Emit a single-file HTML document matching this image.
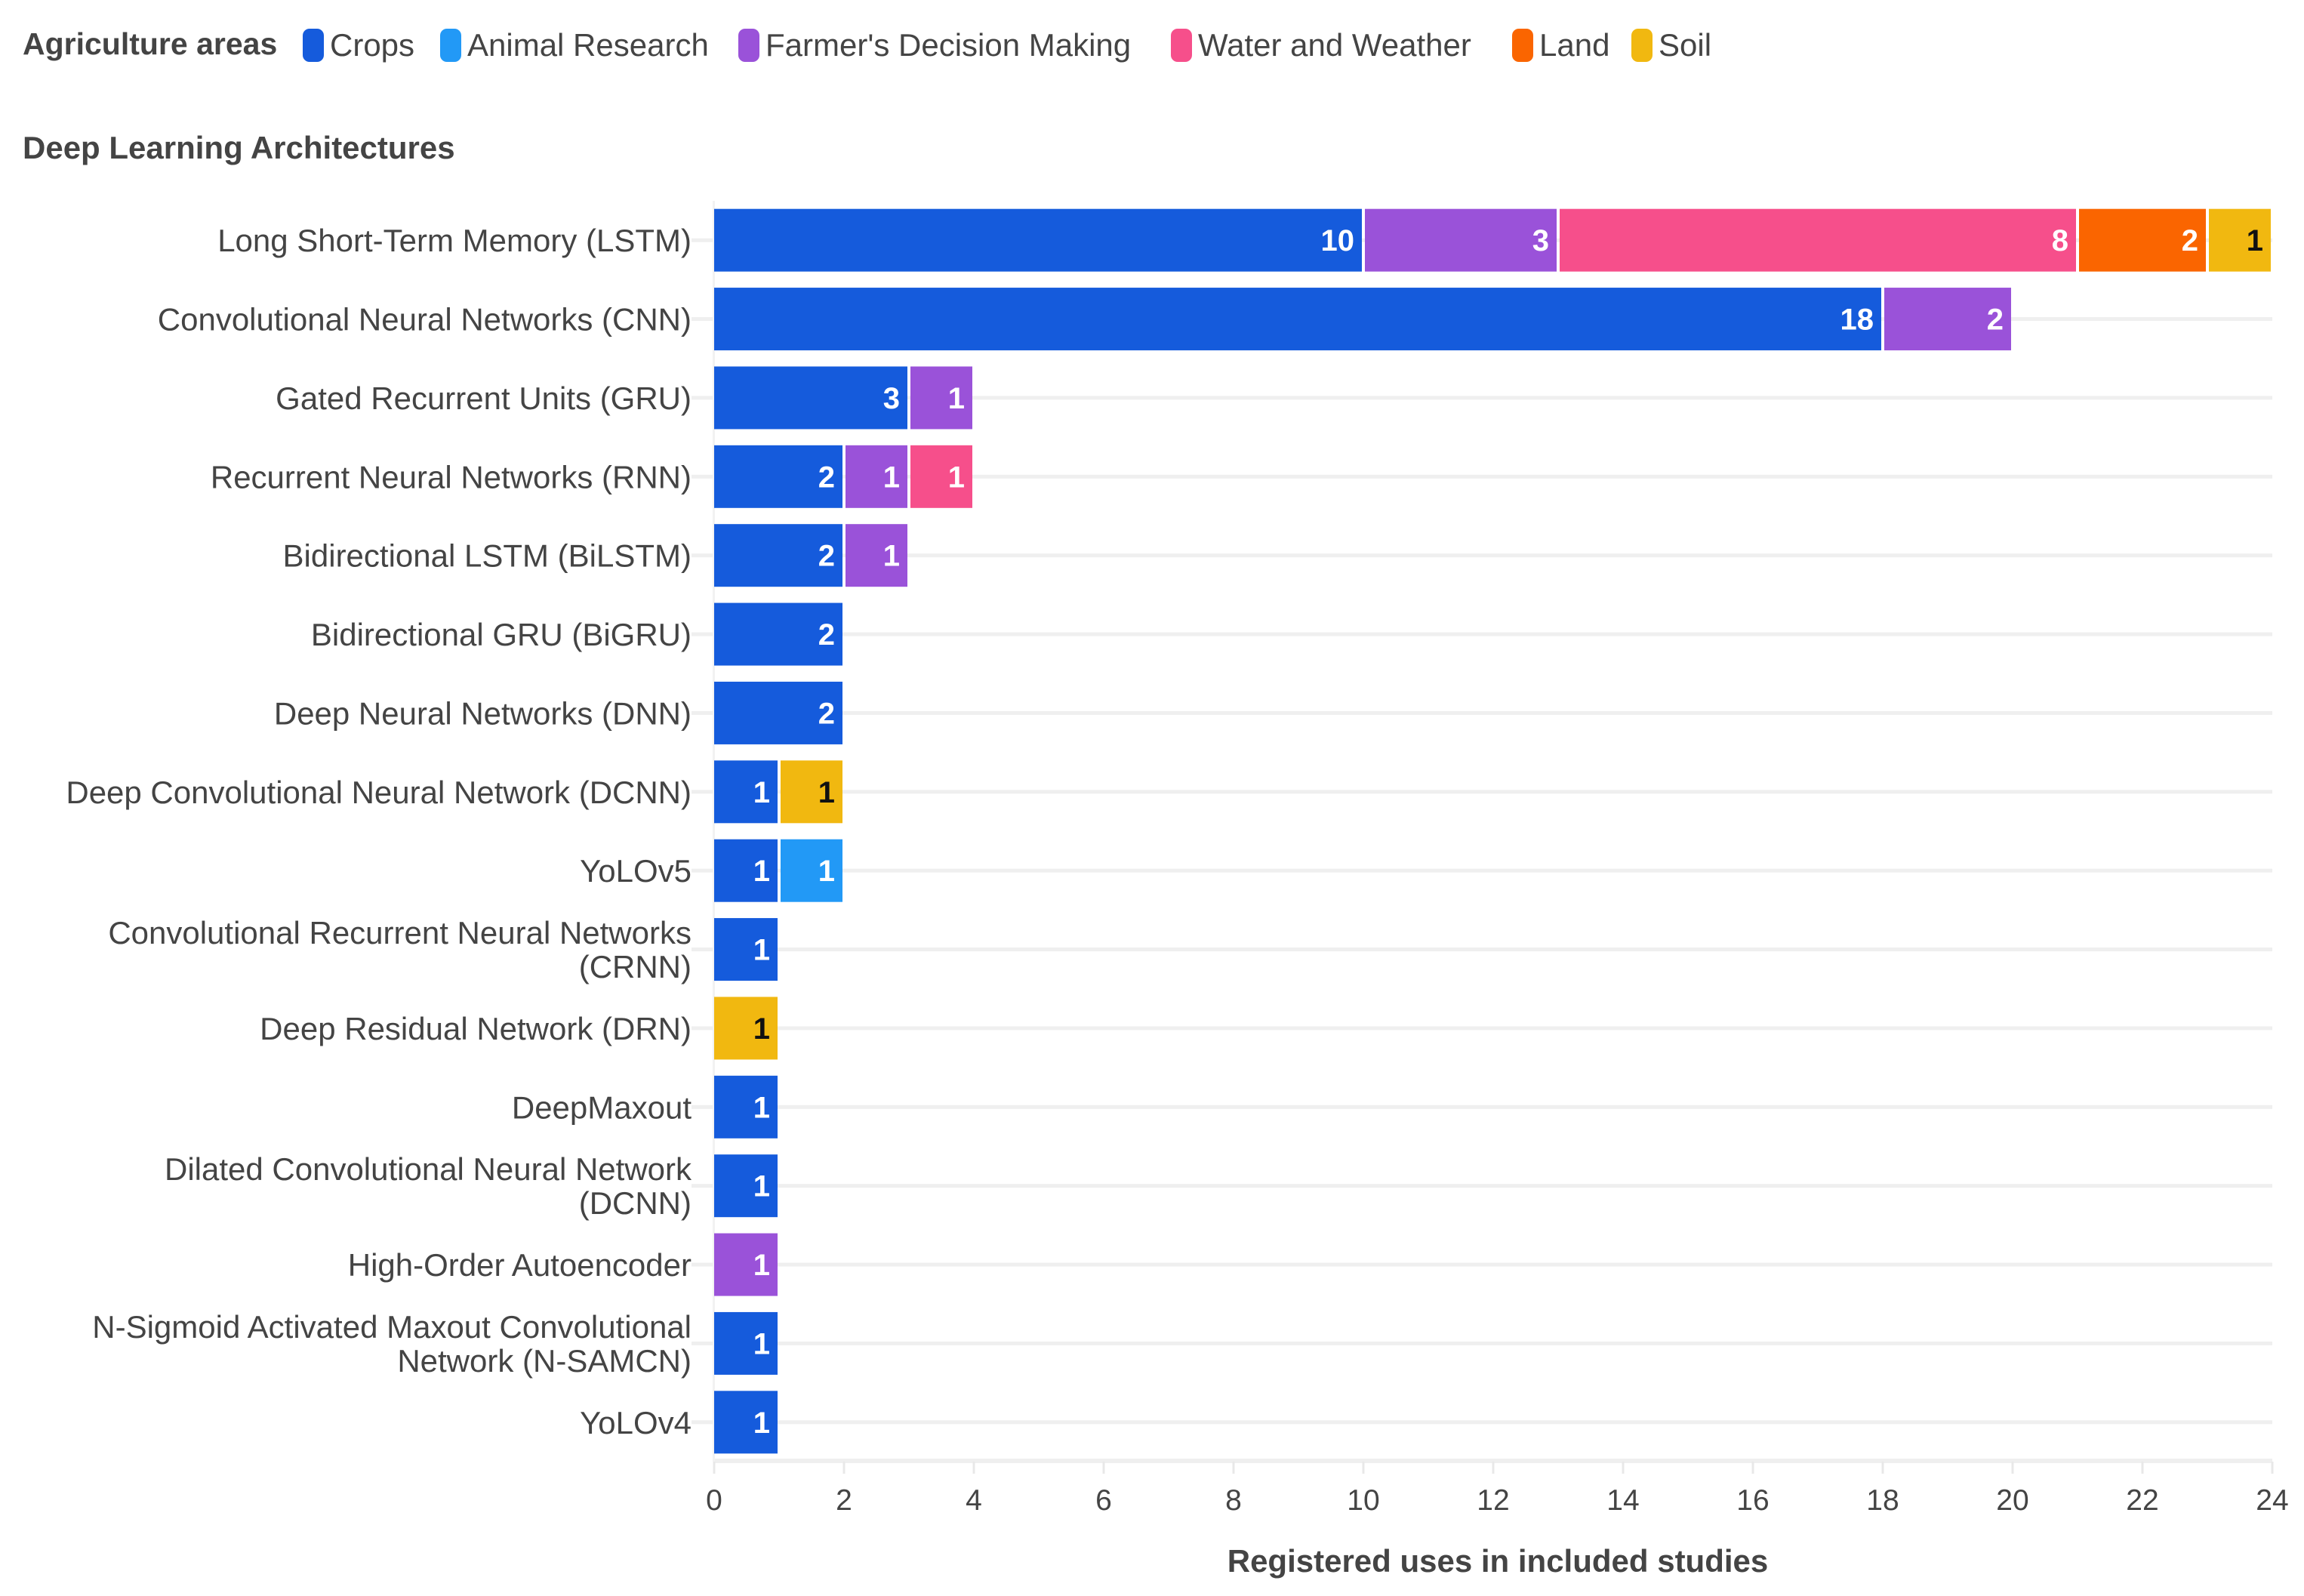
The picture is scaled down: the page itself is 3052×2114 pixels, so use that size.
<!DOCTYPE html>
<html><head><meta charset="utf-8"><style>
body{margin:0;background:#fff;}
svg{display:block;font-family:"Liberation Sans",sans-serif;}
</style></head><body>
<svg id="chart" width="3052" height="2114" viewBox="0 0 3052 2114" xmlns="http://www.w3.org/2000/svg">
<g id="legend"></g>
<text x="30" y="210" font-size="42" font-weight="bold" fill="#444">Deep Learning Architectures</text>
<g id="grid"></g>
<g id="bars"></g>
<g id="ylabels"></g>
<g id="xaxis"></g>
<text x="1984" y="2082" font-size="42" font-weight="bold" fill="#444" text-anchor="middle">Registered uses in included studies</text>
</svg>
<script>
const categories = [["Long Short-Term Memory (LSTM)"],["Convolutional Neural Networks (CNN)"],["Gated Recurrent Units (GRU)"],["Recurrent Neural Networks (RNN)"],["Bidirectional LSTM (BiLSTM)"],["Bidirectional GRU (BiGRU)"],["Deep Neural Networks (DNN)"],["Deep Convolutional Neural Network (DCNN)"],["YoLOv5"],["Convolutional Recurrent Neural Networks","(CRNN)"],["Deep Residual Network (DRN)"],["DeepMaxout"],["Dilated Convolutional Neural Network","(DCNN)"],["High-Order Autoencoder"],["N-Sigmoid Activated Maxout Convolutional","Network (N-SAMCN)"],["YoLOv4"]];
const seriesNames = ["Crops","Animal Research","Farmer's Decision Making","Water and Weather","Land","Soil"];
const seriesColors = ["#155bdc","#2299f6","#9a52d9","#f64f8b","#fa6500","#f1b810"];
const crops   = [10,18,3,2,2,2,2,1,1,1,0,1,1,0,1,1];
const animal  = [0,0,0,0,0,0,0,0,1,0,0,0,0,0,0,0];
const farmer  = [3,2,1,1,1,0,0,0,0,0,0,0,0,1,0,0];
const water   = [8,0,0,1,0,0,0,0,0,0,0,0,0,0,0,0];
const land    = [2,0,0,0,0,0,0,0,0,0,0,0,0,0,0,0];
const soil    = [1,0,0,0,0,0,0,1,0,0,1,0,0,0,0,0];
const seriesValues = [crops,animal,farmer,water,land,soil];
const xTicks = [0,2,4,6,8,10,12,14,16,18,20,22,24];

const NS="http://www.w3.org/2000/svg";
const X0=946, X1=3010, XMAX=24, TOP=266, BOT=1936;
const band=(BOT-TOP)/categories.length, barH=83;
const xs=v=>X0+(X1-X0)*v/XMAX;
const yc=i=>TOP+band*(i+0.5);
function mk(tag,attrs,parent){const e=document.createElementNS(NS,tag);for(const k in attrs)e.setAttribute(k,attrs[k]);parent.appendChild(e);return e;}

// legend
const lg=document.getElementById('legend');
let t=mk('text',{x:30,y:72,'font-size':41,'font-weight':'bold',fill:'#444'},lg);t.textContent="Agriculture areas";
const lgX=[401,583,978,1551,2003,2161];
seriesNames.forEach((n,i)=>{
  const r=mk('rect',{x:lgX[i],y:38,width:28,height:44,rx:9,fill:seriesColors[i]},lg);
  
  
  const tx=mk('text',{x:lgX[i]+36,y:74,'font-size':42,fill:'#444'},lg);
  
  
  tx.textContent=n;
});

// grid
const gg=document.getElementById('grid');
categories.forEach((c,i)=>{mk('rect',{x:X0-30,y:yc(i)-2.5,width:X1-X0+30,height:5,fill:'#efefef'},gg);});
mk('rect',{x:X0,y:BOT-4,width:X1-X0,height:6,fill:'#efefef'},gg);
mk('rect',{x:X0-2,y:TOP,width:3,height:BOT-TOP,fill:'#f2f2f2'},gg);

// bars
const bg=document.getElementById('bars');
categories.forEach((c,i)=>{
  let acc=0;
  seriesValues.forEach((arr,s)=>{
    const v=arr[i]; if(!v) return;
    const x=xs(acc), w=xs(acc+v)-x;
    const r=mk('rect',{x:x+(acc>0?2:0),y:yc(i)-barH/2,width:w-(acc>0?2:0)-2,height:barH,fill:seriesColors[s]},bg);
    
    
    const lt=mk('text',{x:x+w-12,y:yc(i)+14,'font-size':40,'font-weight':'bold','text-anchor':'end',fill:s===5?'#111':'#fff'},bg);
    
    
    lt.textContent=v;
    acc+=v;
  });
});

// y labels
const yl=document.getElementById('ylabels');
categories.forEach((c,i)=>{
  const n=c.length;
  c.forEach((line,j)=>{
    const y=yc(i)+15+(j-(n-1)/2)*45;
    const tx=mk('text',{x:916,y:y,'font-size':42,fill:'#444','text-anchor':'end'},yl);
    
    
    tx.textContent=line;
  });
});

// x axis
const xa=document.getElementById('xaxis');
xTicks.forEach(v=>{
  mk('rect',{x:xs(v)-1.5,y:BOT,width:3,height:16,fill:'#e8e8e8'},xa);
  const tx=mk('text',{x:xs(v),y:2000,'font-size':39,fill:'#444','text-anchor':'middle'},xa);
  
  
  tx.textContent=v;
});
</script>
</body></html>
